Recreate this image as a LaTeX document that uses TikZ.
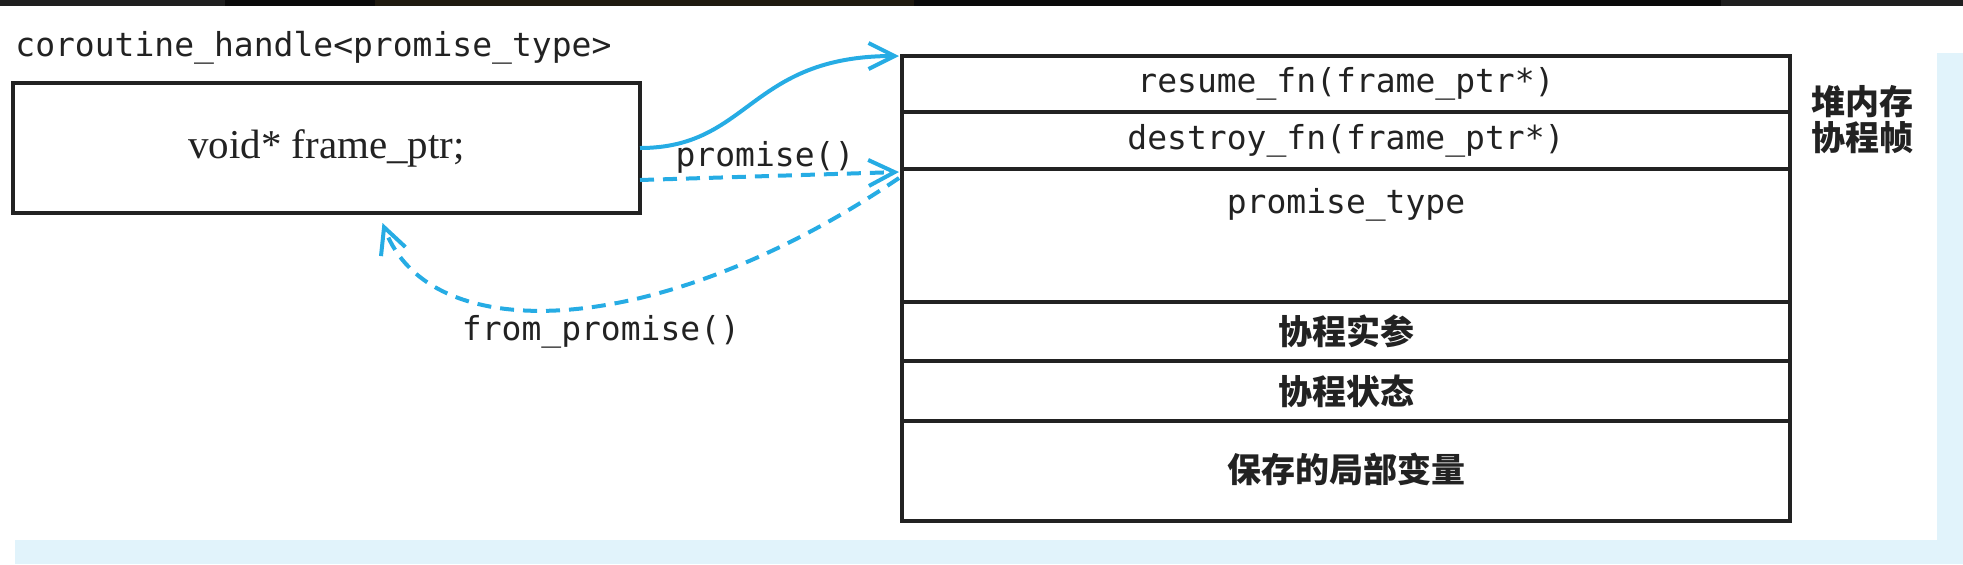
\documentclass[tikz,border=0pt]{standalone}
\usepackage{fontspec}
\setmainfont{Liberation Serif}
\newfontfamily\codefont{DejaVu Sans Mono}
\newfontfamily\cjkfont{Noto Sans CJK SC}
\usetikzlibrary{arrows.meta,positioning}

\definecolor{ink}{RGB}{34,34,34}
\definecolor{linkblue}{RGB}{38,172,228}
\definecolor{panelblue}{RGB}{225,243,251}
\definecolor{barbrown}{RGB}{31,26,16}

\tikzset{
    code/.style={font=\codefont\fontsize{16.5pt}{19pt}\selectfont, text=ink, inner sep=0pt},
    cjk/.style={font=\cjkfont\bfseries\fontsize{17pt}{18pt}\selectfont, text=ink, inner sep=0pt},
    cell/.style={draw=ink, line width=1.75pt, minimum width=444pt, inner sep=0pt, outer sep=0pt},
    link/.style={draw=linkblue, line width=2pt, -{Straight Barb[length=13pt,width=13pt]}},
    dashlink/.style={link, dash pattern=on 7pt off 4.5pt}
}

\begin{document}
\begin{tikzpicture}[x=0.5pt,y=-0.5pt]
        \useasboundingbox (0,0) rectangle (1963,564);
        \fill[black!88] (0,0) rectangle (1963,6);
        \fill[black!96] (225,0) rectangle (375,6);
        \fill[barbrown] (375,0) rectangle (914,6);
        \fill[black!96] (914,0) rectangle (1721,6);
        \fill[panelblue] (1937,53) rectangle (1963,564);
        \fill[panelblue] (15,540) rectangle (1963,564);

        \node[code, anchor=base west] (title) at (15,56) {coroutine\_handle<promise\_type>};
        \node[draw=ink, line width=1.75pt, outer sep=0pt, minimum width=313.5pt, minimum height=65pt,
              font=\fontsize{20.5pt}{24pt}\selectfont, text=ink] (handle) at (326.5,148) {void* frame\_ptr;};

        \node[cell, code, minimum height=28pt] (resume) at (1346,84) {resume\_fn(frame\_ptr*)};
        \node[cell, code, minimum height=28.5pt, below=0pt of resume] (destroy) {destroy\_fn(frame\_ptr*)};
        \node[cell, minimum height=66.5pt, below=0pt of destroy] (promise) {};
        \node[cell, cjk, minimum height=29.5pt, below=0pt of promise] (args) {协程实参};
        \node[cell, cjk, minimum height=30pt, below=0pt of args] (state) {协程状态};
        \node[cell, cjk, minimum height=50pt, below=0pt of state, text depth=3pt] (locals) {保存的局部变量};
        \node[code, anchor=base] (promisetxt) at ([yshift=-22pt]promise.north) {promise\_type};
        \node[cjk, align=center] (heapframe) at (1862,120) {堆内存\\协程帧};

        \draw[link] (handle.east) .. controls +(110,0) and +(-150,0) .. ([xshift=-1.5pt]resume.north west);
        \draw[dashlink] ([yshift=-16pt]handle.east) -- ([xshift=-1.5pt,yshift=-1.5pt]destroy.south west);
        \draw[dashlink] ([xshift=-1.5pt,yshift=-4.5pt]promise.north west) .. controls (660,340) and (430,350) .. ([xshift=28pt,yshift=-5pt]handle.south);
        \node[code] (promiselbl) at (765,157) {promise()};
        \node[code] (fromlbl) at (601,332) {from\_promise()};
    \end{tikzpicture}
\end{document}
